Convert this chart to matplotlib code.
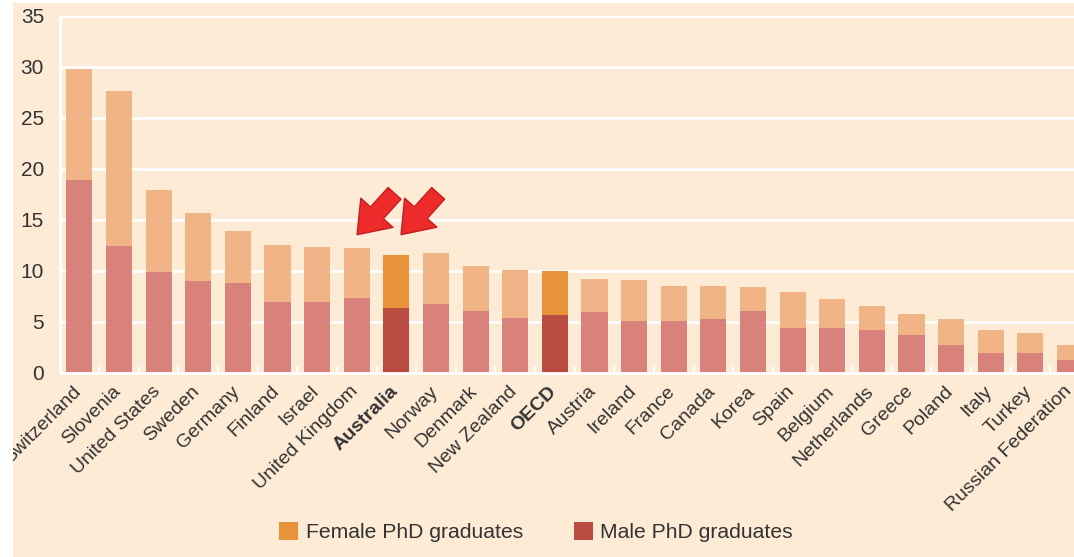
import numpy as np
import matplotlib
matplotlib.use('Agg')
import matplotlib.pyplot as plt
from matplotlib.patches import Patch, Rectangle
from matplotlib.transforms import ScaledTranslation

plt.rcParams['font.family'] = ['Liberation Sans Narrow', 'Liberation Sans', 'DejaVu Sans']

# Данные: число выпускников PhD (на 100 000), мужчины + женщины
countries = ['Switzerland', 'Slovenia', 'United States', 'Sweden', 'Germany', 'Finland',
             'Israel', 'United Kingdom', 'Australia', 'Norway', 'Denmark', 'New Zealand',
             'OECD', 'Austria', 'Ireland', 'France', 'Canada', 'Korea', 'Spain', 'Belgium',
             'Netherlands', 'Greece', 'Poland', 'Italy', 'Turkey', 'Russian Federation']
total = [29.8, 27.6, 17.9, 15.7, 13.9, 12.5, 12.3, 12.2, 11.6, 11.8, 10.5, 10.1,
         10.0, 9.2, 9.1, 8.5, 8.5, 8.4, 7.9, 7.2, 6.6, 5.8, 5.3, 4.2, 3.9, 2.7]
male = [18.9, 12.4, 9.9, 9.0, 8.8, 7.0, 7.0, 7.3, 6.4, 6.8, 6.1, 5.4,
        5.7, 6.0, 5.1, 5.1, 5.3, 6.1, 4.4, 4.4, 4.2, 3.7, 2.7, 2.0, 2.0, 1.3]
highlight = ['Australia', 'OECD']

female = np.array(total) - np.array(male)
x = np.arange(len(countries))

bg = '#FDEBD5'
c_fem, c_male = '#F0B487', '#D9827B'
c_fem_hl, c_male_hl = '#E8923A', '#B94B40'
txt = '#333333'

fig = plt.figure(figsize=(10.74, 5.57), dpi=100, facecolor=bg)
# белые поля слева и сверху (поверх всего, подписи обрезаются)
fig.add_artist(Rectangle((0, 0), 13 / 1074, 1, transform=fig.transFigure,
                         facecolor='white', edgecolor='none', zorder=10))
fig.add_artist(Rectangle((0, 1 - 3 / 557), 1, 3 / 557, transform=fig.transFigure,
                         facecolor='white', edgecolor='none', zorder=10))

ax = fig.add_axes([60 / 1074, 1 - 373 / 557, 1 - 60 / 1074, (373 - 15.7) / 557])
ax.set_facecolor(bg)

male_cols = [c_male_hl if c in highlight else c_male for c in countries]
fem_cols = [c_fem_hl if c in highlight else c_fem for c in countries]

ax.bar(x, male, width=0.66, color=male_cols, zorder=3)
ax.bar(x, female, bottom=male, width=0.66, color=fem_cols, zorder=3)

ax.set_ylim(0, 35)
ax.set_xlim(-0.49, 25.1)
ax.set_yticks(range(0, 36, 5))
ax.yaxis.grid(True, color='white', linewidth=2, zorder=1)
ax.set_axisbelow(True)

for s in ['top', 'right']:
    ax.spines[s].set_visible(False)
for s in ['left', 'bottom']:
    ax.spines[s].set_color('white')
    ax.spines[s].set_linewidth(2)
    ax.spines[s].set_zorder(4)

ax.tick_params(axis='y', length=0, labelsize=15, labelcolor=txt, pad=11.5)
ax.set_xticks(x)
ax.set_xticklabels(countries, rotation=45, ha='right', rotation_mode='anchor')
ax.tick_params(axis='x', length=0, labelsize=14, labelcolor=txt, pad=7)
shift = ScaledTranslation(-7 / 100, 0, fig.dpi_scale_trans)
for lab in ax.get_xticklabels():
    lab.set_transform(lab.get_transform() + shift)
    if lab.get_text() in highlight:
        lab.set_fontweight('bold')
ax.set_xticks(x[:-1] + 0.5, minor=True)
ax.tick_params(axis='x', which='minor', direction='in', length=5, width=1.5, color='white')

# стрелки на Australia
arrow = dict(arrowstyle='simple,head_length=0.85,head_width=1.25,tail_width=0.5',
             fc='#EE2B2B', ec='#C41E1E', lw=1, mutation_scale=25)
ax.annotate('', xy=(6.96, 13.35), xytext=(8.0, 17.8), arrowprops=arrow, zorder=5)
ax.annotate('', xy=(8.07, 13.35), xytext=(9.1, 17.8), arrowprops=arrow, zorder=5)

handles = [Patch(facecolor=c_fem_hl, label='Female PhD graduates'),
           Patch(facecolor=c_male_hl, label='Male PhD graduates')]
fig.legend(handles=handles, loc='center', bbox_to_anchor=(0.499, 0.045), ncol=2,
           frameon=False, fontsize=15.2, handlelength=0.9, handleheight=1.0,
           handletextpad=0.35, columnspacing=2.4, labelcolor=txt)

fig.savefig('out.png', dpi=100, facecolor=bg)
